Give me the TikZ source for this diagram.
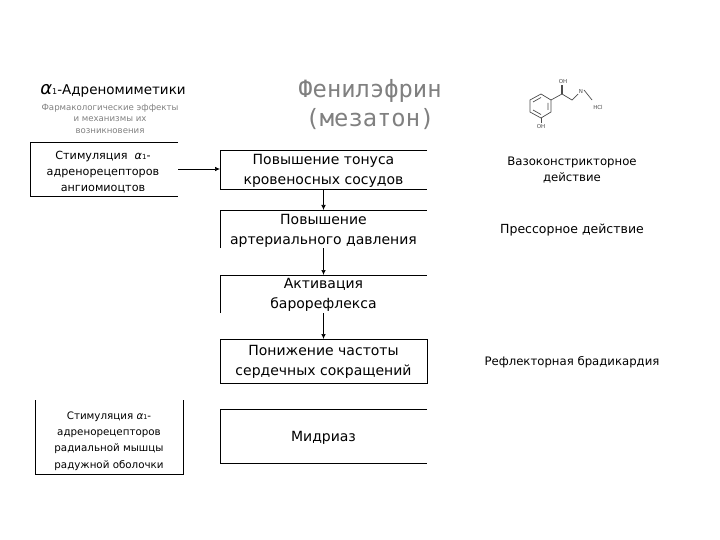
\documentclass[tikz,border=0pt]{standalone}
\usepackage{fontspec}
\setmainfont{DejaVu Sans}
\setmonofont{DejaVu Sans Mono}
\usetikzlibrary{arrows.meta}
\newcommand{\al}{{\itshape α}}
\tikzset{
 x=1pt,y=-1pt,
 edge/.style={black,line width=0.9pt},
 conn/.style={black,line width=0.7pt,-{Latex[length=5pt,width=4.5pt]}},
 boxtext/.style={align=center,inner sep=0pt,font=\fontsize{14pt}{20pt}\selectfont,text=black},
 smalltext/.style={align=center,inner sep=0pt,font=\fontsize{10.3pt}{16.4pt}\selectfont,text=black},
 sidetext/.style={align=center,inner sep=0pt,font=\fontsize{11.7pt}{16pt}\selectfont,text=black},
 faint/.style={align=center,inner sep=0pt,font=\fontsize{8.6pt}{11.5pt}\selectfont,text=black!50},
 titletext/.style={align=center,inner sep=0pt,font=\ttfamily\fontsize{23.8pt}{29pt}\selectfont,text=black!50},
 mol/.style={black!70,line width=0.7pt},
 mollabel/.style={inner sep=0pt,font=\fontsize{5.5pt}{6pt}\selectfont,text=black!70}
}
\begin{document}
\begin{tikzpicture}
\useasboundingbox (0,0) rectangle (720,540);
% headings
\node[inner sep=0pt,font=\fontsize{13.5pt}{15pt}\selectfont,text=black] (head) at (113,90.5) {{\fontsize{18pt}{15pt}\selectfont\al}{\fontsize{8pt}{8pt}\selectfont 1}-Адреномиметики};
\node[faint] (sub) at (110,118.5) {Фармакологические эффекты\\и механизмы их\\возникновения};
\node[titletext] (title) at (370,105) {Фенилэфрин\\(мезатон)};
% left top box
\node[boxtext,font=\fontsize{11.2pt}{16pt}\selectfont] (s1) at (103,172) {Стимуляция \ \al{\fontsize{7pt}{7pt}\selectfont 1}-\\адренорецепторов\\ангиомиоцтов};
\draw[edge] (178,142) -- (30,142) -- (30,196) -- (178,196);
% centre boxes
\node[boxtext] (a) at (323.5,170.5) {Повышение тонуса\\кровеносных сосудов};
\draw[edge] (427,150) -- (220,150) -- (220,189) -- (427,189);
\node[boxtext] (b) at (323.5,231) {Повышение\\артериального давления};
\draw[edge] (220,248) -- (220,210) -- (427,210);
\node[boxtext] (c) at (323.5,295) {Активация\\барорефлекса};
\draw[edge] (220,313) -- (220,275) -- (427,275);
\node[boxtext] (d) at (323.5,362) {Понижение частоты\\сердечных сокращений};
\draw[edge] (220,339) rectangle (427,383);
\node[boxtext] (e) at (323.5,438) {Мидриаз};
\draw[edge] (427,409) -- (220,409) -- (220,463) -- (427,463);
% lower left box
\node[smalltext] (s2) at (109,441) {Стимуляция \al{\fontsize{6.5pt}{6.5pt}\selectfont 1}-\\адренорецепторов\\радиальной мышцы\\радужной оболочки};
\draw[edge] (35,400) -- (35,474) -- (183,474) -- (183,400);
% connectors
\coordinate (s1e) at (178,169);
\coordinate (ain) at (220,169);
\coordinate (ab) at (323.5,189);
\coordinate (bt) at (323.5,210);
\coordinate (bb) at (323.5,248);
\coordinate (ct) at (323.5,275);
\coordinate (cb) at (323.5,313);
\coordinate (dt) at (323.5,339);
\draw[conn] (s1e) -- (ain);
\draw[conn] (ab) -- (bt);
\draw[conn] (bb) -- (ct);
\draw[conn] (cb) -- (dt);
% right column
\node[sidetext] (r1) at (572,170) {Вазоконстрикторное\\действие};
\node[sidetext,font=\fontsize{12.5pt}{16pt}\selectfont] (r2) at (572,230) {Прессорное действие};
\node[sidetext] (r3) at (572,362) {Рефлекторная брадикардия};
% molecule
\draw[mol] (530,100) -- (541,94) -- (551,100) -- (551,112) -- (541,118) -- (530,112) -- cycle;
\draw[mol] (533,102) -- (541,97.5) (548,103) -- (548,110) (533,110) -- (541,114.5);
\draw[mol] (551,100) -- (562,94) -- (572,100) -- (578,94) (584,90) -- (592,100);
\draw[mol,line width=1.2pt] (562,94) -- (562,85);
\draw[mol] (541,118) -- (541,123);
\node[mollabel] (oh1) at (563,82) {OH};
\node[mollabel] (oh2) at (541,126) {OH};
\node[mollabel] (nh) at (581,91) {N};
\node[mollabel] (hcl) at (598,107) {HCl};
\end{tikzpicture}
\end{document}
